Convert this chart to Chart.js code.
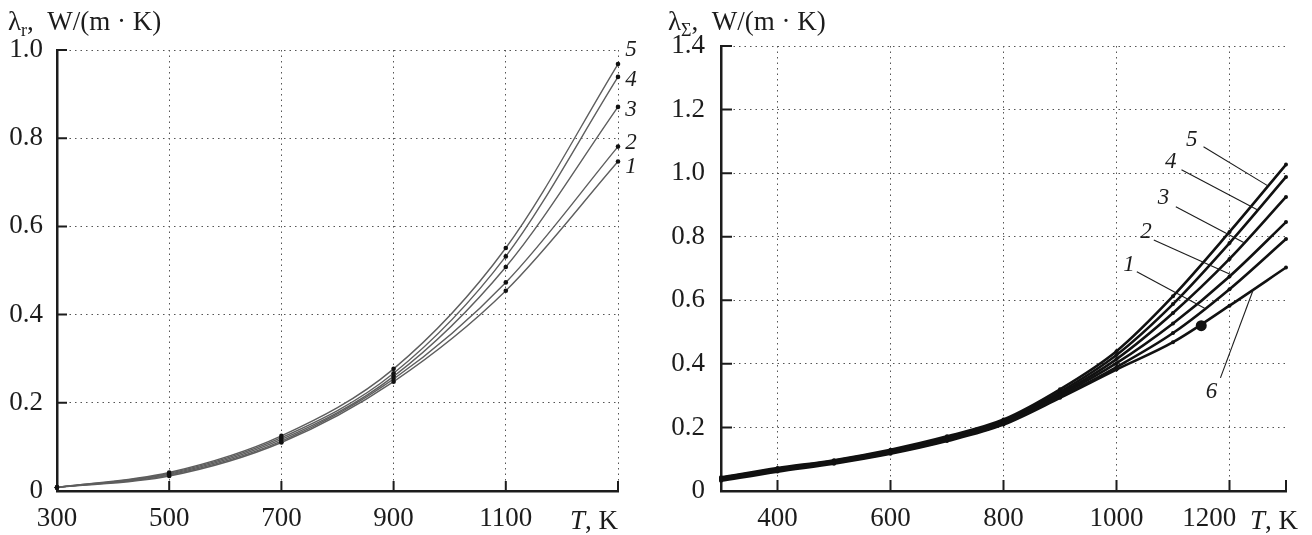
<!DOCTYPE html>
<html>
<head>
<meta charset="utf-8">
<script src="https://cdn.jsdelivr.net/npm/chart.js@4.4.1/dist/chart.umd.min.js"></script>
<style>
html,body{margin:0;padding:0;background:#fff;}
#wrap{position:relative;width:1312px;height:535px;}
.panel{position:absolute;top:0;height:535px;}
#p1{left:0;width:660px;}
#p2{left:660px;width:652px;}
</style>
</head>
<body>
<div id="wrap">
<div class="panel" id="p1"><canvas id="grafR"></canvas></div>
<div class="panel" id="p2"><canvas id="grafS"></canvas></div>
</div>
<script>
// left panel: radiative conductivity, curves 1..5
const tLeft=[300,500,700,900,1100,1300];
const lamR1=[0.008,0.034,0.110,0.248,0.454,0.747];
const lamR2=[0.008,0.036,0.113,0.254,0.473,0.781];
const lamR3=[0.008,0.038,0.117,0.260,0.508,0.871];
const lamR4=[0.008,0.040,0.121,0.267,0.532,0.939];
const lamR5=[0.008,0.042,0.125,0.277,0.551,0.968];

// right panel: total conductivity, curves 1..6
const tRight=[300,400,500,600,700,800,900,1000,1100,1200,1300];
const lamS1=[0.035,0.064,0.089,0.120,0.160,0.212,0.296,0.390,0.497,0.635,0.793];
const lamS2=[0.037,0.066,0.091,0.122,0.163,0.215,0.301,0.402,0.527,0.675,0.846];
const lamS3=[0.039,0.068,0.093,0.125,0.166,0.218,0.306,0.415,0.560,0.730,0.925];
const lamS4=[0.041,0.070,0.095,0.127,0.169,0.221,0.312,0.428,0.588,0.780,0.988];
const lamS5=[0.043,0.072,0.097,0.130,0.172,0.225,0.320,0.440,0.613,0.815,1.027];
const lamS6=[0.032,0.061,0.086,0.117,0.157,0.209,0.293,0.382,0.468,0.583,0.703];
const dot6T=[1150];
const dot6L=[0.52];

const xTicksLeft=[300,500,700,900,1100,1300];
const yTicksLeft=[0,0.2,0.4,0.6,0.8,1.0];
const xTicksRight=[400,600,800,1000,1200,1300];
const yTicksRight=[0,0.2,0.4,0.6,0.8,1.0,1.2,1.4];

const SERIF="'Liberation Serif','DejaVu Serif',serif";
Chart.defaults.font.family=SERIF;
Chart.defaults.font.size=27;
Chart.defaults.color='#1c1c1c';

const pts=(ts,ls)=>ts.map((t,i)=>({x:t,y:ls[i]}));

// axes titles, inward ticks, curve numbers
const deco={
id:'deco',
afterDraw(chart,args,o){
const {ctx,chartArea:a,scales:{x,y}}=chart;
ctx.save();
ctx.strokeStyle='#1c1c1c';
ctx.lineWidth=2;
ctx.beginPath();
x.ticks.forEach(t=>{
const px=x.getPixelForValue(t.value);
if(px<=a.left+2) return;
ctx.moveTo(px,a.bottom);ctx.lineTo(px,a.bottom-o.tick);
});
y.ticks.forEach(t=>{
const py=y.getPixelForValue(t.value);
if(py>=a.bottom-2) return;
ctx.moveTo(a.left,py);ctx.lineTo(a.left+o.tick,py);
});
ctx.stroke();

ctx.fillStyle='#1c1c1c';
ctx.textBaseline='alphabetic';
ctx.textAlign='left';
// title
let tx=o.title.x;
ctx.font='27px '+SERIF;
ctx.fillText('λ',tx,o.title.y);
tx+=ctx.measureText('λ').width;
ctx.font='18px '+SERIF;
ctx.fillText(o.title.sub,tx,o.title.y+6);
tx+=ctx.measureText(o.title.sub).width;
ctx.font='27px '+SERIF;
ctx.fillText(o.title.rest,tx,o.title.y);

// T, K
ctx.font='27px '+SERIF;
const wk=ctx.measureText(', K').width;
ctx.fillText(', K',o.unitX.xr-wk,o.unitX.y);
ctx.font='italic 27px '+SERIF;
const wt=ctx.measureText('T').width;
ctx.fillText('T',o.unitX.xr-wk-wt,o.unitX.y);

// numbers at curve ends
ctx.font='italic 23px '+SERIF;
ctx.textAlign='center';
ctx.textBaseline='middle';
(o.endLabels||[]).forEach(l=>{
const m=chart.getDatasetMeta(l.ds).data;
const p=m[m.length-1];
ctx.fillText(l.text,p.x+l.dx,p.y+l.dy);
});
// numbers with leader lines (data units)
ctx.lineWidth=1.1;
(o.leaders||[]).forEach(l=>{
ctx.fillText(l.text,x.getPixelForValue(l.tx),y.getPixelForValue(l.ty));
ctx.beginPath();
ctx.moveTo(x.getPixelForValue(l.x1),y.getPixelForValue(l.y1));
ctx.lineTo(x.getPixelForValue(l.x2),y.getPixelForValue(l.y2));
ctx.stroke();
});
ctx.restore();
}
};

function eixos(xmin,xmax,xt,ymin,ymax,yt,yw,ypad,xlab,gridX){
return {
x:{
type:'linear',min:xmin,max:xmax,
afterBuildTicks:ax=>{ax.ticks=xt.map(v=>({value:v}));},
afterFit:ax=>{ax.height=44;},
ticks:{padding:12,maxRotation:0,autoSkip:false,callback:xlab},
grid:{drawTicks:false,lineWidth:1,color:gridX},
border:{display:true,color:'#1c1c1c',width:2.5,dash:[1.5,4]}
},
y:{
type:'linear',min:ymin,max:ymax,
afterBuildTicks:ax=>{ax.ticks=yt.map(v=>({value:v}));},
afterFit:ax=>{ax.width=yw;},
ticks:{padding:ypad,autoSkip:false,callback:v=>v===0?'0':v.toFixed(1)},
grid:{drawTicks:false,lineWidth:1,color:'#555'},
border:{display:true,color:'#1c1c1c',width:2.5,dash:[1.5,4]}
}
};
}

const linhaR=(d)=>({data:d,borderColor:'#5e5e5e',borderWidth:1.4,pointRadius:2.3,
pointBackgroundColor:'#111',pointBorderWidth:0,cubicInterpolationMode:'monotone',clip:8});
const linhaS=(d)=>({data:d,borderColor:'#111',borderWidth:2.6,pointRadius:2,
pointBackgroundColor:'#111',pointBorderWidth:0,cubicInterpolationMode:'monotone',clip:8});

new Chart(document.getElementById('grafR'),{
type:'line',
data:{datasets:[
linhaR(pts(tLeft,lamR1)),linhaR(pts(tLeft,lamR2)),linhaR(pts(tLeft,lamR3)),
linhaR(pts(tLeft,lamR4)),linhaR(pts(tLeft,lamR5))
]},
options:{
responsive:true,maintainAspectRatio:false,animation:false,events:[],
layout:{padding:{top:50,right:42,left:0,bottom:0}},
scales:eixos(300,1300,xTicksLeft,0,1.0,yTicksLeft,57,14,v=>v===1300?'':String(v),'#555'),
plugins:{legend:{display:false},tooltip:{enabled:false},
deco:{tick:10,
title:{x:8,y:30,sub:'r',rest:',  W/(m · K)'},
unitX:{xr:618,y:529},
endLabels:[
{ds:0,text:'1',dx:13,dy:5},{ds:1,text:'2',dx:13,dy:-4},{ds:2,text:'3',dx:13,dy:3},
{ds:3,text:'4',dx:13,dy:3},{ds:4,text:'5',dx:13,dy:-14}
]}}
},
plugins:[deco]
});

new Chart(document.getElementById('grafS'),{
type:'line',
data:{datasets:[
linhaS(pts(tRight,lamS1)),linhaS(pts(tRight,lamS2)),linhaS(pts(tRight,lamS3)),
linhaS(pts(tRight,lamS4)),linhaS(pts(tRight,lamS5)),linhaS(pts(tRight,lamS6)),
{data:pts(dot6T,dot6L),showLine:false,pointRadius:5.5,pointBackgroundColor:'#111',pointBorderWidth:0}
]},
options:{
responsive:true,maintainAspectRatio:false,animation:false,events:[],
layout:{padding:{top:46,right:26,left:0,bottom:0}},
scales:eixos(300,1300,xTicksRight,0,1.4,yTicksRight,61,16,
v=>v===1300?'':(v===1200?'1200\u2002\u2002\u2002':String(v)),
c=>c.tick&&c.tick.value===1300?'rgba(0,0,0,0)':'#555'),
plugins:{legend:{display:false},tooltip:{enabled:false},
deco:{tick:11,
title:{x:8,y:30,sub:'Σ',rest:',  W/(m · K)'},
unitX:{xr:638,y:529},
leaders:[
{text:'5',tx:1133,ty:1.105,x1:1154,y1:1.083,x2:1268,y2:0.960},
{text:'4',tx:1096,ty:1.036,x1:1115,y1:1.011,x2:1250,y2:0.884},
{text:'3',tx:1083,ty:0.923,x1:1105,y1:0.894,x2:1226,y2:0.781},
{text:'2',tx:1052,ty:0.816,x1:1066,y1:0.790,x2:1203,y2:0.680},
{text:'1',tx:1022,ty:0.712,x1:1036,y1:0.690,x2:1156,y2:0.575},
{text:'6',tx:1168,ty:0.312,x1:1184,y1:0.356,x2:1242,y2:0.633}
]}}
},
plugins:[deco]
});
</script>
</body>
</html>
